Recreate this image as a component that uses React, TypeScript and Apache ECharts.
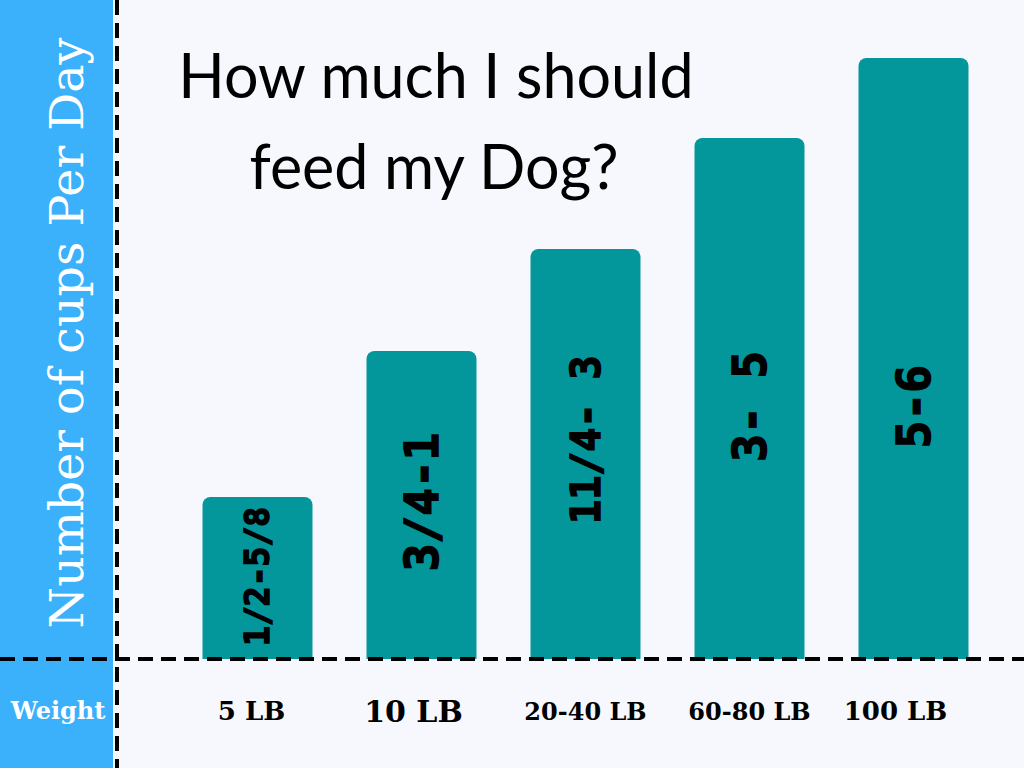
import React, { useEffect, useRef } from "react";
import * as echarts from "echarts";

const categories = ["5 LB", "10 LB", "20-40 LB", "60-80 LB", "100 LB"];
const barValues = [1.62, 3.08, 4.1, 5.21, 6.01];
const barLabels = ["1/2-5/8", "3/4-1", "11/4- 3", "3- 5", "5-6"];
const titleLines = ["How much I should", "feed my Dog?"];
const yTitle = "Number of cups Per Day";
const xTitle = "Weight";

// styling (not data)
const labelCenterPct = ["49%", "49%", "46.5%", "51.5%", "58%"];
const labelFontSizes = [33, 46, 40, 46, 46];
const xLabelSizes = [26, 30, 24, 24, 26];
const xLabelShift = [12, 16, 0, 0, 36];

export default function App() {
  const ref = useRef<HTMLDivElement>(null);
  useEffect(() => {
    if (!ref.current) return;
    const chart = echarts.init(ref.current, null, { renderer: "svg" });
    const rich: Record<string, any> = {};
    categories.forEach((_, i) => {
      rich["c" + i] = {
        fontFamily: "DejaVu Serif",
        fontWeight: "bold",
        fontSize: xLabelSizes[i],
        color: "#000",
        padding: [0, xLabelShift[i], 0, 0],
      };
    });
    chart.setOption({
      animation: false,
      backgroundColor: "#f6f8fd",
      grid: { left: 175.5, right: 28.5, top: 9, bottom: 109 },
      xAxis: {
        type: "category",
        data: categories,
        axisLine: { show: false },
        axisTick: { show: false },
        axisLabel: {
          margin: 52,
          verticalAlign: "middle",
          formatter: (v: string) => {
            const i = categories.indexOf(v);
            return "{c" + i + "|" + v + "}";
          },
          rich,
        },
      },
      yAxis: {
        type: "value",
        min: 0,
        max: 6.5,
        show: false,
        splitLine: { show: false },
      },
      series: [
        {
          type: "bar",
          barWidth: 110,
          itemStyle: { color: "#03979c", borderRadius: [8, 8, 0, 0] },
          data: barValues.map((v, i) => ({
            value: v,
            label: {
              show: true,
              formatter: barLabels[i],
              position: ["50%", labelCenterPct[i]],
              rotate: 90,
              align: "center",
              verticalAlign: "middle",
              fontFamily: "DejaVu Sans Mono",
              fontWeight: "bold",
              fontSize: labelFontSizes[i],
              color: "#000",
              textBorderColor: "#000",
              textBorderWidth: 1.5,
            },
          })),
          z: 2,
        },
      ],
      graphic: [
        {
          type: "rect",
          shape: { x: 0, y: 0, width: 113, height: 768 },
          style: { fill: "#3bb0fb" },
          z: 0,
          silent: true,
        },
        {
          type: "line",
          shape: { x1: 117, y1: 0, x2: 117, y2: 768 },
          style: { stroke: "#000", lineWidth: 4, lineDash: [15, 8] },
          z: 10,
        },
        {
          type: "line",
          shape: { x1: 0, y1: 659, x2: 1024, y2: 659 },
          style: { stroke: "#000", lineWidth: 4, lineDash: [15, 8] },
          z: 10,
        },
        {
          type: "text",
          x: 436,
          y: 44,
          style: {
            text: titleLines[0],
            fontFamily: "Lato",
            fontWeight: 400,
            fontSize: 61,
            fill: "#000",
            align: "center",
            verticalAlign: "top",
          },
          z: 10,
        },
        {
          type: "text",
          x: 434,
          y: 135,
          style: {
            text: titleLines[1],
            fontFamily: "Lato",
            fontWeight: 400,
            fontSize: 61,
            fill: "#000",
            align: "center",
            verticalAlign: "top",
          },
          z: 10,
        },
        {
          type: "text",
          x: 66,
          y: 333,
          rotation: Math.PI / 2,
          style: {
            text: yTitle,
            fontFamily: "DejaVu Serif",
            fontSize: 47.5,
            fill: "#fff",
            align: "center",
            verticalAlign: "middle",
          },
          z: 10,
        },
        {
          type: "text",
          x: 58,
          y: 710,
          style: {
            text: xTitle,
            fontFamily: "DejaVu Serif",
            fontWeight: "bold",
            fontSize: 24,
            fill: "#fff",
            align: "center",
            verticalAlign: "middle",
          },
          z: 10,
        },
      ],
    });
    return () => chart.dispose();
  }, []);
  return (
    <div
      ref={ref}
      style={{ position: "absolute", left: 0, top: 0, width: 1024, height: 768 }}
    />
  );
}
